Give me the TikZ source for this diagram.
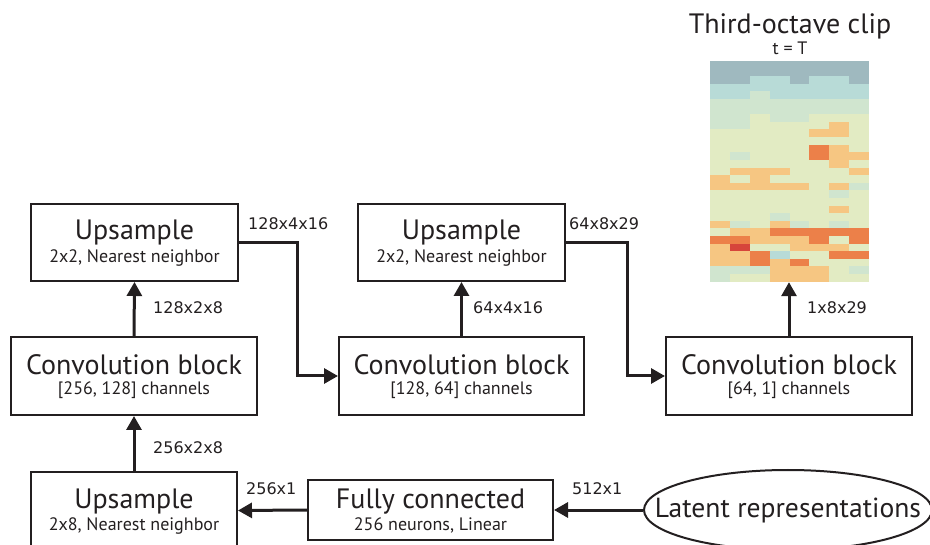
\documentclass[tikz,border=0pt]{standalone}
\usepackage{fontspec}
\setmainfont{PT Sans}
\newfontfamily\lblfont{DejaVu Sans}
\usetikzlibrary{arrows.meta,shapes.geometric}
\definecolor{hmA}{HTML}{9FB9BF}
\definecolor{hmB}{HTML}{B8DBD7}
\definecolor{hmC}{HTML}{D0E5CF}
\definecolor{hmD}{HTML}{E2EBC3}
\definecolor{hmE}{HTML}{F6C682}
\definecolor{hmF}{HTML}{EC8049}
\definecolor{hmG}{HTML}{D6453B}
\definecolor{ink}{HTML}{231F20}
\begin{document}
\begin{tikzpicture}[x=1pt,y=-1pt,
  blk/.style n args={2}{draw=ink, line width=2pt, inner sep=0pt, minimum width=#1, minimum height=#2},
  ttl/.style={font=\fontsize{28}{30}\selectfont, text=ink, anchor=base, inner sep=0pt},
  sub/.style={font=\fontsize{18}{20}\selectfont, text=ink, anchor=base, inner sep=0pt},
  lbl/.style={font=\lblfont\fontsize{16}{18}\selectfont, text=ink, anchor=base west, inner sep=0pt},
  arr/.style={draw=ink, line width=3pt, -{Triangle[length=14pt,width=15pt]}}]
\useasboundingbox (0,0) rectangle (930,545);
\clip (0,0) rectangle (930,545);

% heatmap
\node[inner sep=0pt, minimum width=159pt, minimum height=221pt] (hm) at (789.5,171.5) {};
\begin{scope}
\clip (710,61) rectangle (869,281.7);
\foreach \rowcols [count=\r from 0] in {
 {A,A,A,A,A,A,A,A},
 {A,A,A,A,A,A,A,A},
 {A,A,B,B,A,B,B,A},
 {B,B,B,B,B,B,B,B},
 {B,B,C,B,B,B,B,B},
 {C,C,C,C,C,C,C,C},
 {C,C,C,C,C,C,C,C},
 {C,C,D,C,C,D,D,D},
 {C,C,D,D,D,D,E,D},
 {D,D,D,D,D,E,E,D},
 {D,D,D,D,D,D,D,D},
 {D,D,D,D,D,F,E,D},
 {D,C,D,D,D,F,E,E},
 {D,D,D,D,D,D,E,D},
 {D,E,E,E,D,D,D,E},
 {E,D,E,D,D,D,D,D},
 {E,E,E,E,E,D,E,C},
 {D,D,D,D,D,D,C,D},
 {D,D,D,D,D,D,D,D},
 {D,D,D,D,D,D,E,D},
 {D,D,D,C,D,D,D,D},
 {E,C,D,E,C,D,C,D},
 {D,E,E,F,F,F,F,F},
 {F,F,E,E,E,F,D,F},
 {E,G,D,D,E,E,E,D},
 {E,E,F,B,D,D,F,F},
 {E,E,F,E,F,D,D,D},
 {C,C,C,E,E,E,D,C},
 {C,D,D,E,E,E,D,D}} {
  \foreach \c [count=\k from 0] in \rowcols {
    \fill[fill=hm\c] ({710+19.875*\k},{61+7.61*\r}) rectangle ++(20.3,8.0);
  }
}
\end{scope}
\node[ttl] (cliptitle) at (790,33.3) {Third-octave clip};
\node[sub] (cliptime) at (790,55) {t = T};

% boxes
\node[blk={207pt}{77pt}] (up1) at (134.5,242.5) {};
\node[blk={246pt}{78pt}] (conv1) at (134,376) {};
\node[blk={207pt}{77pt}] (up2) at (461.5,242.5) {};
\node[blk={245pt}{78pt}] (conv2) at (461.5,376) {};
\node[blk={246pt}{78pt}] (conv3) at (789,376) {};
\node[blk={206pt}{77pt}] (up3) at (134,510.5) {};
\node[blk={245pt}{60pt}] (fc) at (430.5,510) {};
\node[draw=ink, line width=2pt, ellipse, inner sep=0pt, minimum width=288pt, minimum height=80pt] (lat) at (788,510) {};
\node[font=\fontsize{27.6}{30}\selectfont, text=ink, inner sep=0pt] (latt) at (lat.center) {Latent representations};

% box texts
\node[ttl] (up1t) at (134.5,240) {Upsample};
\node[sub] (up1s) at (134.5,262.3) {2x2, Nearest neighbor};
\node[ttl] (conv1t) at (134,375) {Convolution block};
\node[sub] (conv1s) at (134,395) {[256, 128] channels};
\node[ttl] (up2t) at (461.5,240) {Upsample};
\node[sub] (up2s) at (461.5,262.3) {2x2, Nearest neighbor};
\node[ttl] (conv2t) at (461.5,375) {Convolution block};
\node[sub] (conv2s) at (461.5,395) {[128, 64] channels};
\node[ttl] (conv3t) at (789,375) {Convolution block};
\node[sub] (conv3s) at (789,395) {[64, 1] channels};
\node[ttl] (up3t) at (134,508.3) {Upsample};
\node[sub] (up3s) at (134,530) {2x8, Nearest neighbor};
\node[ttl] (fct) at (430.5,508.3) {Fully connected};
\node[sub] (fcs) at (430.5,530.7) {256 neurons, Linear};

% connectors
\draw[arr] (lat.west) -- (fc.east);
\draw[arr] (fc.west) -- (up3.east);
\draw[arr] (up3.north) -- (conv1.south);
\draw[arr] (conv1.north) -- (up1.south);
\draw[arr] (up1.east) -- ++(58,0) |- (conv2.west);
\draw[arr] (conv2.north) -- (up2.south);
\draw[arr] (up2.east) -- ++(61,0) |- (conv3.west);
\draw[arr] (conv3.north) -- (conv3.north |- hm.south);

% labels
\node[lbl] (l1) at (153,453.3) {256x2x8};
\node[lbl] (l2) at (153,314) {128x2x8};
\node[lbl] (l3) at (248,230) {128x4x16};
\node[lbl] (l4) at (473,314) {64x4x16};
\node[lbl] (l5) at (569,230) {64x8x29};
\node[lbl] (l6) at (807,314) {1x8x29};
\node[lbl] (l7) at (246,495) {256x1};
\node[lbl] (l8) at (572,495) {512x1};
\end{tikzpicture}
\end{document}
